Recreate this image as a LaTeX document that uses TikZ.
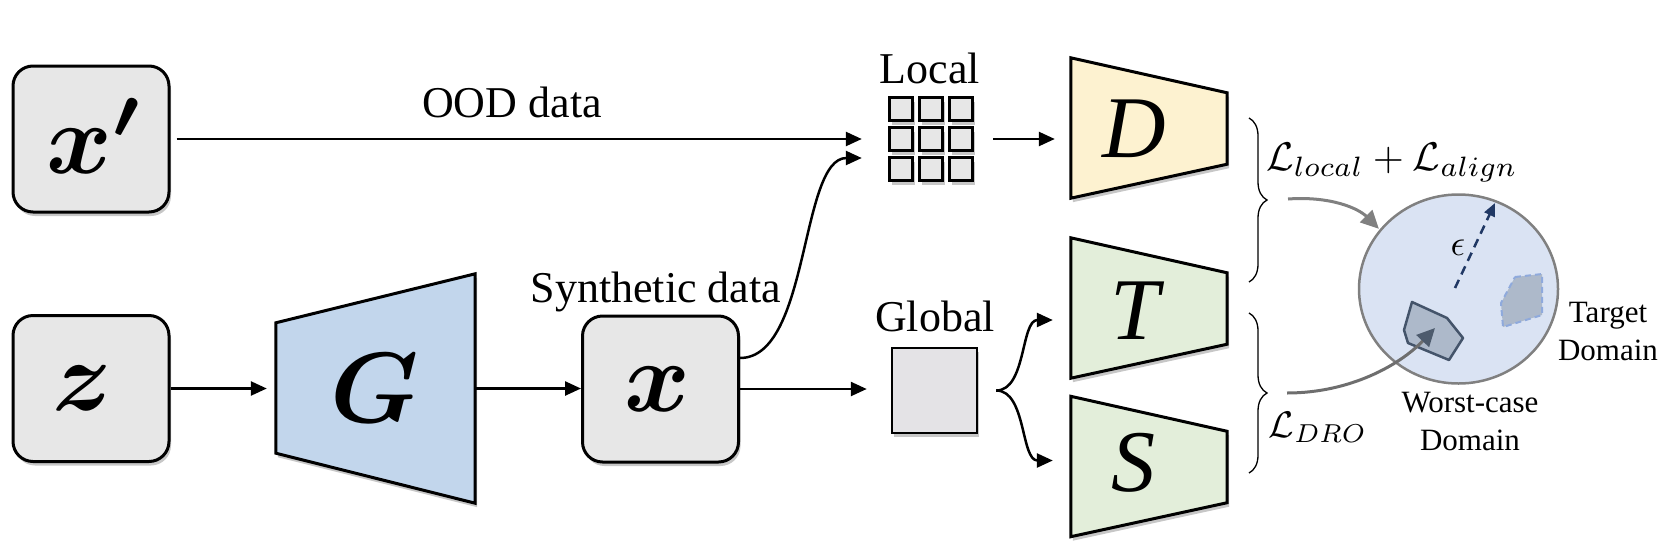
\documentclass[tikz,border=0pt]{standalone}
\usepackage{fontspec}
\setmainfont{Liberation Serif}
\usetikzlibrary{arrows.meta,shadows,decorations.pathreplacing,calc,shapes.geometric}
\definecolor{boxgray}{RGB}{231,231,231}
\definecolor{globgray}{RGB}{228,227,230}
\definecolor{gblue}{RGB}{194,214,236}
\definecolor{dyellow}{RGB}{253,242,208}
\definecolor{tgreen}{RGB}{227,238,218}
\definecolor{ballblue}{RGB}{218,227,243}
\definecolor{patchc}{RGB}{173,185,202}
\definecolor{slate}{RGB}{68,84,106}
\definecolor{navyc}{RGB}{32,56,100}
\definecolor{lightdash}{RGB}{143,170,220}
\definecolor{arrgray}{RGB}{128,128,128}
\definecolor{droarr}{RGB}{110,110,110}
\begin{document}
\begin{tikzpicture}[x=1pt,y=-1pt,
  shd/.style={drop shadow={opacity=0.22,shadow xshift=2pt,shadow yshift=-4pt,fill=black}},
  rbox/.style={draw,line width=3pt,fill=boxgray,rounded corners=20pt,minimum width=156pt,
    minimum height=146pt,inner sep=0pt,shd},
  mlet/.style={inner sep=0pt,scale=10,font=\normalsize\boldmath},
  trapbox/.style={minimum width=156pt,minimum height=140pt,inner sep=0pt},
  trap/.style={draw,line width=3pt,line join=miter,shd},
  biglet/.style={font=\fontsize{88}{90}\selectfont\itshape,inner sep=0pt},
  lbl/.style={font=\fontsize{44}{48}\selectfont,inner sep=0pt,anchor=base},
  arr/.style={line width=2.5pt,-{Triangle[length=16pt,width=14pt]}},
  garr/.style={line width=3pt,arrgray,-{Triangle[length=18pt,width=17pt]}},
  brc/.style={decorate,decoration={brace,amplitude=18pt},line width=1.3pt},
  cell/.style={draw,line width=2.5pt,fill=boxgray,minimum size=23pt,inner sep=0pt,shd},
  small/.style={font=\fontsize{31}{38}\selectfont,align=center,inner sep=0pt,anchor=north}
]
\useasboundingbox (0,0) rectangle (1678,552);

% input boxes
\node[rbox] (xp) at (91,139) {};
\node[rbox] (z) at (91,388.5) {};
\node[rbox] (x) at (660.5,389) {};
\node[mlet] (xpl) at (96,136) {$x'$};
\node[mlet] (zl) at (82,388) {$z$};
\node[mlet] (xl) at (657,389) {$x$};

% generator
\node[minimum width=199pt,minimum height=229pt,inner sep=0pt] (G) at (375.5,388.5) {};
\draw[trap,fill=gblue] ($(G.north west)+(0,49)$) -- (G.north east) -- (G.south east)
  -- ($(G.south west)+(0,-50)$) -- cycle;
\node[mlet] (Gl) at (375,388) {$G$};

% local grid
\node[minimum width=84pt,minimum height=82pt,inner sep=0pt] (local) at (931,139) {};
\foreach \i in {1,2,3}{\foreach \j in {1,2,3}{
  \node[cell] (c\i\j) at ($(local)+({30*(\i-2)},{30*(\j-2)})$) {};}}

% global box
\node[draw,line width=2.5pt,fill=globgray,minimum size=85pt,inner sep=0pt,shd] (glob) at (934.5,390.5) {};

% D, T, S
\node[trapbox] (D) at (1149,128) {};
\node[trapbox] (T) at (1149,308) {};
\node[trapbox] (S) at (1149,466.5) {};
\draw[trap,fill=dyellow] (D.north west) -- ($(D.north east)+(0,35)$) -- ($(D.south east)+(0,-34)$) -- (D.south west) -- cycle;
\draw[trap,fill=tgreen] (T.north west) -- ($(T.north east)+(0,35)$) -- ($(T.south east)+(0,-34)$) -- (T.south west) -- cycle;
\draw[trap,fill=tgreen] (S.north west) -- ($(S.north east)+(0,35)$) -- ($(S.south east)+(0,-34)$) -- (S.south west) -- cycle;
\node[biglet] (Dl) at (1134,129) {D};
\node[biglet] (Tl) at (1135,311) {T};
\node[biglet] (Sl) at (1133,463) {S};

% labels
\node[lbl] (ood) at (512,117) {OOD data};
\node[lbl] (loc) at (930,83) {Local};
\node[lbl] (glb) at (935,331) {Global};
\node[lbl] (syn) at (656,302) {Synthetic data};

% black connectors
\draw[arr,shorten <=6pt,shorten >=27pt] (xp.east) -- (xp.east -| local.west);
\draw[arr] ($(x.east)+(0,-31)$) .. controls +(70,0) and +(-62,0) .. ($(local.west)+(-27,19)$);
\draw[arr,shorten >=16pt,shorten <=20pt] (local.east) -- (local.east -| D.west);
\draw[arr,shorten >=9pt] (z.east) -- (z.east -| G.west);
\draw[arr] (G.east) -- (G.east -| x.west);
\draw[arr,shorten >=24pt] (x.east) -- (x.east -| glob.west);
\coordinate (gs) at ($(glob.east)+(18,0)$);
\draw[arr] (gs) .. controls +(30,0) and +(-32,0) .. ($(T.west)+(-18,12)$);
\draw[arr] (gs) .. controls +(30,0) and +(-32,0) .. ($(S.west)+(-18,-6)$);

% braces
\coordinate (b1t) at (1249,118);
\coordinate (b1b) at (1249,282);
\coordinate (b2t) at (1249,313);
\coordinate (b2b) at (1249,473);
\draw[brc] (b1t) -- (b1b);
\draw[brc] (b2t) -- (b2b);

\node[scale=4,anchor=base,inner sep=0pt,font=\normalsize] (lla) at (1392,170) {$\mathcal{L}_{local}+\mathcal{L}_{align}$};
\node[scale=3.7,anchor=base,inner sep=0pt,font=\normalsize] (ldro) at (1318,437) {$\mathcal{L}_{DRO}$};

% domain ball
\node[ellipse,draw=arrgray,line width=2.5pt,fill=ballblue,minimum width=199pt,minimum height=189pt,inner sep=0pt] (ball) at (1458.5,289) {};
\draw[fill=patchc,draw=lightdash,line width=2pt,dash pattern=on 6pt off 4pt]
  (1515,277) -- (1542,274) -- (1542,315) -- (1503,327) -- (1501,303) -- cycle;
\draw[fill=patchc,draw=slate,line width=2.5pt,line join=round]
  (1412,302) -- (1447,318) -- (1463,338) -- (1449,360) -- (1408,343) -- (1404,330) -- cycle;
\coordinate (epsS) at (1455,288);
\coordinate (epsE) at (1495,203);
\draw[navyc,line width=2.5pt,dash pattern=on 9pt off 6pt,-{Triangle[length=13pt,width=11pt]}] (epsS) -- (epsE);
\node[scale=3.6,inner sep=0pt,font=\normalsize] (epsl) at (1458,248) {$\epsilon$};

% grey arrows
\coordinate (b1m) at (1288,199);
\coordinate (b2m) at (1287,393);
\coordinate (wc) at (1435,328);
\draw[garr,shorten >=1pt] (b1m) .. controls (1330,196) and (1358,208) .. (ball.143);
\draw[line width=3pt,droarr,-{Triangle[length=18pt,width=17pt,color=slate!85!gray]}] (b2m) .. controls (1350,393) and (1400,365) .. (wc);

\node[small] (wcd) at (1470,391.5) {Worst-case\\Domain};
\node[small] (tgd) at (1608,301.5) {Target\\Domain};
\end{tikzpicture}
\end{document}
